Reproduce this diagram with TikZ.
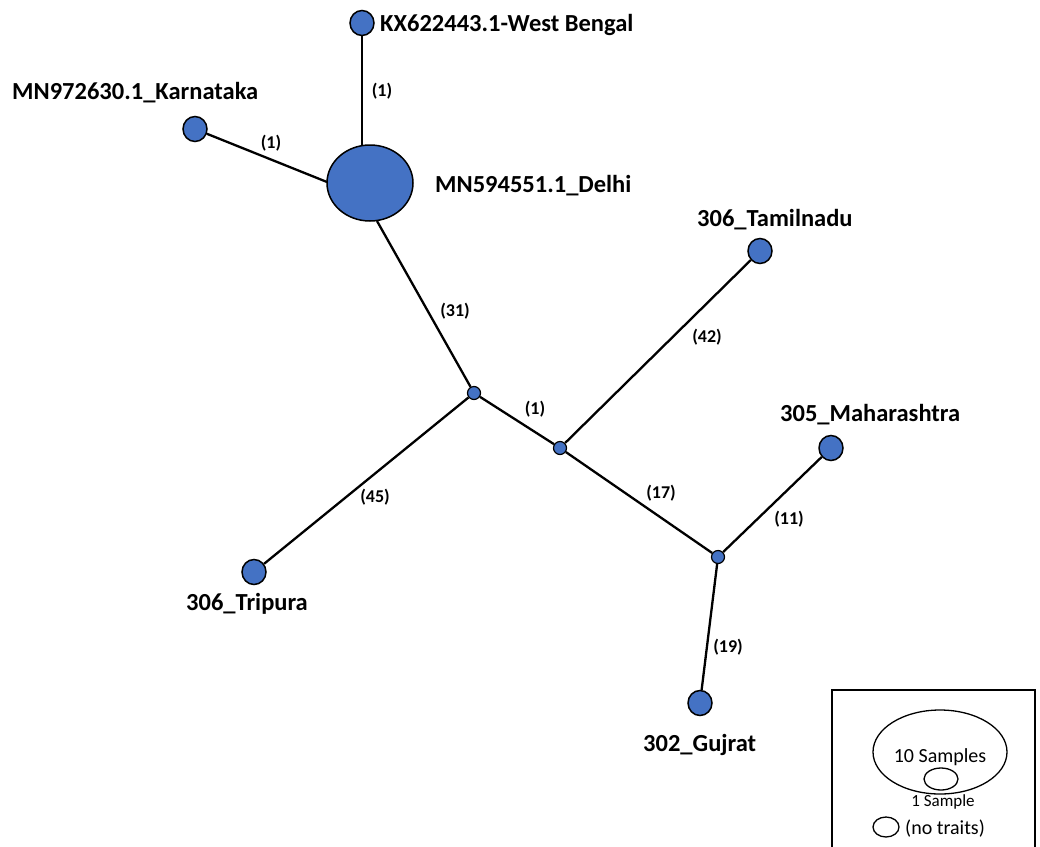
\documentclass[tikz,border=0pt]{standalone}
\usepackage{fontspec}
\setmainfont{Carlito}
\usetikzlibrary{shapes.geometric}
\definecolor{nodeblue}{HTML}{4472C4}
\begin{document}
\begin{tikzpicture}[x=1pt,y=-1pt,
  hap/.style={ellipse,draw=black,line width=1.5pt,fill=nodeblue,inner sep=0pt,minimum width=24pt,minimum height=25pt},
  hub/.style={circle,draw=black,line width=1.2pt,fill=nodeblue,inner sep=0pt,minimum size=13pt},
  edge/.style={draw=black,line width=2.3pt},
  lab/.style={font=\bfseries\fontsize{24.5}{28}\selectfont,anchor=west,inner sep=0pt},
  elab/.style={font=\bfseries\fontsize{18}{20}\selectfont,inner sep=0pt},
  leg/.style={draw=black,line width=1.3pt,ellipse,inner sep=0pt}]
\useasboundingbox (0,0) rectangle (1040,846);
\node[hap] (wb) at (362,23) {};
\node[hap] (ka) at (195,129) {};
\node[hap,minimum width=86pt,minimum height=76pt] (de) at (370,183) {};
\node[hub] (h1) at (474,393) {};
\node[hub] (h2) at (560,448) {};
\node[hub] (h3) at (718,557) {};
\node[hap] (tn) at (760,251) {};
\node[hap] (mh) at (831,448) {};
\node[hap] (tr) at (254,572) {};
\node[hap] (gj) at (700,703) {};
\coordinate (dT) at (362,146);
\coordinate (dL) at (327,182);
\coordinate (dB) at (377,221);
\draw[edge] (wb) -- (dT);
\draw[edge] (ka) -- (dL);
\draw[edge] (dB) -- (h1);
\draw[edge] (h1) -- (h2);
\draw[edge] (h1) -- (tr);
\draw[edge] (h2) -- (tn);
\draw[edge] (h2) -- (h3);
\draw[edge] (h3) -- (mh);
\draw[edge] (h3) -- (gj);
\node[lab] (lwb) at (380,25) {KX622443.1-West Bengal};
\node[lab] (lka) at (12,93) {MN972630.1\_Karnataka};
\node[lab] (lde) at (435,186) {MN594551.1\_Delhi};
\node[lab] (ltn) at (697,220) {306\_Tamilnadu};
\node[lab] (lmh) at (780,415) {305\_Maharashtra};
\node[lab] (ltr) at (186,604) {306\_Tripura};
\node[lab] (lgj) at (643,745) {302\_Gujrat};
\node[elab] (e1) at (382,91) {(1)};
\node[elab] (e2) at (271,143) {(1)};
\node[elab] (e3) at (455,311) {(31)};
\node[elab] (e4) at (707,337) {(42)};
\node[elab] (e5) at (535,409) {(1)};
\node[elab] (e6) at (661,493) {(17)};
\node[elab] (e7) at (789,519) {(11)};
\node[elab] (e8) at (375,497) {(45)};
\node[elab] (e9) at (728,647) {(19)};
\draw[line width=1.3pt] (832,850) -- (832,690) -- (1035,690) -- (1035,850);
\node[leg,minimum width=134pt,minimum height=84pt] (big) at (940,752) {};
\node[font=\fontsize{20}{22}\selectfont,inner sep=0pt] (t10) at (940,757) {10 Samples};
\node[leg,minimum width=34pt,minimum height=22pt,fill=white] (small) at (941,779) {};
\node[font=\fontsize{17}{20}\selectfont,inner sep=0pt] (t1) at (943,802) {1 Sample};
\node[leg,minimum width=26pt,minimum height=20pt] (nt) at (886,827) {};
\node[font=\fontsize{20}{22}\selectfont,inner sep=0pt,anchor=west] (tnt) at (905,829) {(no traits)};
\end{tikzpicture}
\end{document}
